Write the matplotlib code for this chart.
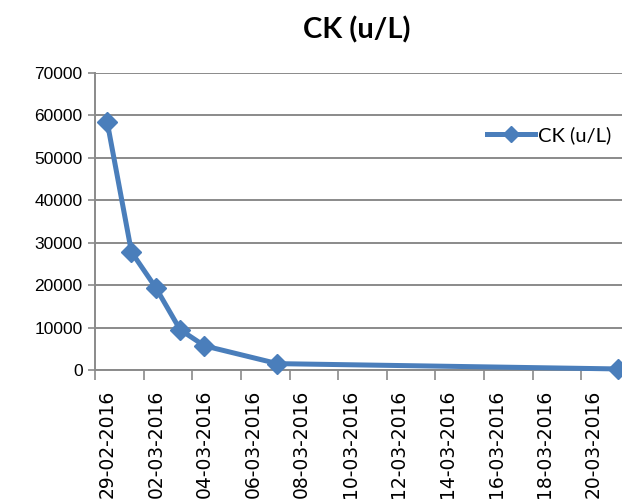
import matplotlib
matplotlib.use("Agg")
import matplotlib.pyplot as plt
from matplotlib import font_manager
import pandas as pd
import numpy as np

dates = ["29-02-2016", "01-03-2016", "02-03-2016", "03-03-2016", "04-03-2016", "07-03-2016", "21-03-2016"]
ck_values = [58500, 27800, 19400, 9500, 5700, 1500, 250]
tick_dates = ["29-02-2016", "02-03-2016", "04-03-2016", "06-03-2016", "08-03-2016", "10-03-2016",
              "12-03-2016", "14-03-2016", "16-03-2016", "18-03-2016", "20-03-2016"]
y_ticks = [0, 10000, 20000, 30000, 40000, 50000, 60000, 70000]

start = pd.to_datetime(dates[0], format="%d-%m-%Y")
x = [(pd.to_datetime(d, format="%d-%m-%Y") - start).days for d in dates]
xt = [(pd.to_datetime(d, format="%d-%m-%Y") - start).days for d in tick_dates]

fig = plt.figure(figsize=(6.22, 4.99), dpi=100)
W, H = 622, 499
left, right, top, bottom = 95, 630, 73, 370
ax = fig.add_axes([left / W, (H - bottom) / H, (right - left) / W, (bottom - top) / H])

grid_c = "#8a8a8a"
ax.set_xlim(-0.5, 21.5)
ax.set_ylim(0, 70000)
ax.set_yticks(y_ticks)
ax.set_yticklabels([str(v) for v in y_ticks], fontsize=12.5, family="Liberation Sans")
ax.yaxis.grid(True, color=grid_c, linewidth=1.4)
ax.set_axisbelow(True)

ax.set_xticks(xt)
ax.set_xticklabels(tick_dates, rotation=90, fontsize=13.5, family="DejaVu Sans")
ax.set_xticks([t - 0.5 for t in xt], minor=True)
ax.tick_params(axis="x", which="major", length=0, pad=14)
ax.tick_params(axis="x", which="minor", length=7, width=1.2, color=grid_c, direction="out")
ax.tick_params(axis="y", length=5, width=1.2, color=grid_c, direction="out", pad=4)

for s in ["top", "right"]:
    ax.spines[s].set_visible(False)
for s in ["left", "bottom"]:
    ax.spines[s].set_color(grid_c)
    ax.spines[s].set_linewidth(1.4)

line_c = "#4a7ebb"
ax.plot(x, ck_values, color=line_c, linewidth=3.6, marker="D", markersize=10.5,
        markerfacecolor=line_c, markeredgecolor=line_c, label="CK (u/L)", clip_on=False, zorder=3)

leg = ax.legend(loc="center left", bbox_to_anchor=((487 - left) / (right - left), (bottom - 135) / (bottom - top)),
                frameon=False, prop={"family": "Lato", "size": 14.5}, handlelength=2.4,
                handletextpad=0.15, borderpad=0, borderaxespad=0, markerscale=0.75)

fig.text(357 / W, 1 - 38 / H, "CK (u/L)", ha="center", va="baseline", fontsize=21,
         fontweight="bold", family="Lato")

fig.savefig("out.png", dpi=100)
